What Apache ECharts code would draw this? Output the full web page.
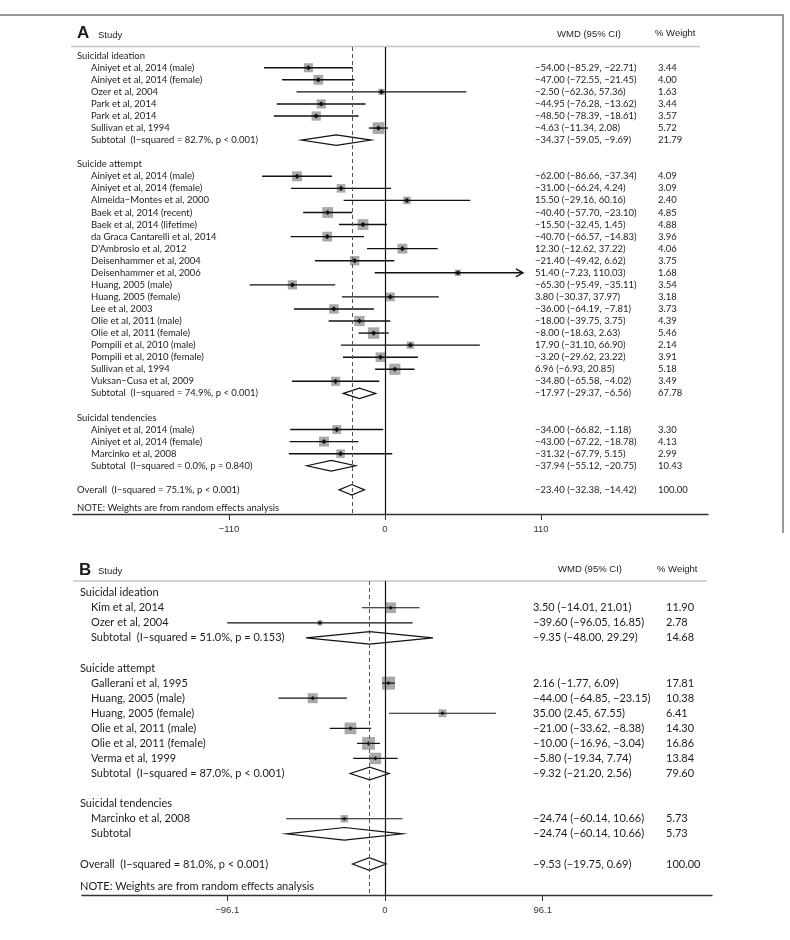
<!DOCTYPE html>
<html><head><meta charset="utf-8">
<script src="https://cdn.jsdelivr.net/npm/echarts@6/dist/echarts.min.js"></script>
<style>html,body{margin:0;padding:0;background:#fff}#c{width:790px;height:940px}</style>
</head><body><div id="c"></div>
<script>
// ---------- Panel A data ----------
const A_labels = [
  "Suicidal ideation",
  "Ainiyet et al, 2014 (male)", "Ainiyet et al, 2014 (female)", "Ozer et al, 2004",
  "Park et al, 2014", "Park et al, 2014", "Sullivan et al, 1994",
  "Subtotal  (I\u2212squared = 82.7%, p < 0.001)", "",
  "Suicide attempt",
  "Ainiyet et al, 2014 (male)", "Ainiyet et al, 2014 (female)", "Almeida\u2212Montes et al, 2000",
  "Baek et al, 2014 (recent)", "Baek et al, 2014 (lifetime)", "da Graca Cantarelli et al, 2014",
  "D'Ambrosio et al, 2012", "Deisenhammer et al, 2004", "Deisenhammer et al, 2006",
  "Huang, 2005 (male)", "Huang, 2005 (female)", "Lee et al, 2003",
  "Olie et al, 2011 (male)", "Olie et al, 2011 (female)", "Pompili et al, 2010 (male)",
  "Pompili et al, 2010 (female)", "Sullivan et al, 1994", "Vuksan\u2212Cusa et al, 2009",
  "Subtotal  (I\u2212squared = 74.9%, p < 0.001)", "",
  "Suicidal tendencies",
  "Ainiyet et al, 2014 (male)", "Ainiyet et al, 2014 (female)", "Marcinko et al, 2008",
  "Subtotal  (I\u2212squared = 0.0%, p = 0.840)", "",
  "Overall  (I\u2212squared = 75.1%, p < 0.001)",
  "NOTE: Weights are from random effects analysis"
];
const A_kind = ["g","s","s","s","s","s","s","t","b",
  "g","s","s","s","s","s","s","s","s","s","s","s","s","s","s","s","s","s","s","t","b",
  "g","s","s","s","t","b","o","n"];
const A_est = [null,-54.00,-47.00,-2.50,-44.95,-48.50,-4.63,-34.37,null,
  null,-62.00,-31.00,15.50,-40.40,-15.50,-40.70,12.30,-21.40,51.40,-65.30,3.80,-36.00,-18.00,-8.00,17.90,-3.20,6.96,-34.80,-17.97,null,
  null,-34.00,-43.00,-31.32,-37.94,null,-23.40,null];
const A_lo = [null,-85.29,-72.55,-62.36,-76.28,-78.39,-11.34,-59.05,null,
  null,-86.66,-66.24,-29.16,-57.70,-32.45,-66.57,-12.62,-49.42,-7.23,-95.49,-30.37,-64.19,-39.75,-18.63,-31.10,-29.62,-6.93,-65.58,-29.37,null,
  null,-66.82,-67.22,-67.79,-55.12,null,-32.38,null];
const A_hi = [null,-22.71,-21.45,57.36,-13.62,-18.61,2.08,-9.69,null,
  null,-37.34,4.24,60.16,-23.10,1.45,-14.83,37.22,6.62,110.03,-35.11,37.97,-7.81,3.75,2.63,66.90,23.22,20.85,-4.02,-6.56,null,
  null,-1.18,-18.78,5.15,-20.75,null,-14.42,null];
const A_wt = [null,3.44,4.00,1.63,3.44,3.57,5.72,21.79,null,
  null,4.09,3.09,2.40,4.85,4.88,3.96,4.06,3.75,1.68,3.54,3.18,3.73,4.39,5.46,2.14,3.91,5.18,3.49,67.78,null,
  null,3.30,4.13,2.99,10.43,null,100.00,null];
const A_ticks = [-110, 0, 110];

// ---------- Panel B data ----------
const B_labels = [
  "Suicidal ideation",
  "Kim et al, 2014", "Ozer et al, 2004",
  "Subtotal  (I\u2212squared = 51.0%, p = 0.153)", "",
  "Suicide attempt",
  "Gallerani et al, 1995", "Huang, 2005 (male)", "Huang, 2005 (female)",
  "Olie et al, 2011 (male)", "Olie et al, 2011 (female)", "Verma et al, 1999",
  "Subtotal  (I\u2212squared = 87.0%, p < 0.001)", "",
  "Suicidal tendencies",
  "Marcinko et al, 2008",
  "Subtotal", "",
  "Overall  (I\u2212squared = 81.0%, p < 0.001)",
  "NOTE: Weights are from random effects analysis"
];
const B_kind = ["g","s","s","t","b","g","s","s","s","s","s","s","t","b","g","s","t","b","o","n"];
const B_est = [null,3.50,-39.60,-9.35,null,null,2.16,-44.00,35.00,-21.00,-10.00,-5.80,-9.32,null,null,-24.74,-24.74,null,-9.53,null];
const B_lo = [null,-14.01,-96.05,-48.00,null,null,-1.77,-64.85,2.45,-33.62,-16.96,-19.34,-21.20,null,null,-60.14,-60.14,null,-19.75,null];
const B_hi = [null,21.01,16.85,29.29,null,null,6.09,-23.15,67.55,-8.38,-3.04,7.74,2.56,null,null,10.66,10.66,null,0.69,null];
const B_wt = [null,11.90,2.78,14.68,null,null,17.81,10.38,6.41,14.30,16.86,13.84,79.60,null,null,5.73,5.73,null,100.00,null];
const B_ticks = [-96.1, 0, 96.1];

// ---------- layout ----------
const LAB_FONT = "Lato, 'Open Sans', sans-serif";
const HDR_FONT = "'Liberation Sans', Arial, sans-serif";
const INK = "#1c1c1c";

const panelA = {
  labels: A_labels, kind: A_kind, est: A_est, lo: A_lo, hi: A_hi, wt: A_wt, ticks: A_ticks,
  grid: {left: 73, top: 47, right: 790 - 708, height: 514 - 47},
  xMin: -220, xMax: 227.8, clipHi: 97.3,
  rowTop: 55.7, rowStep: 12.06,
  groupX: 77, studyX: 91, ciX: 535, wtX: 658,
  fontSize: 9.5, boxK: 4.9, dotR: 2.6, ciW: 1.4, diaH: 5.3
};
const panelB = {
  labels: B_labels, kind: B_kind, est: B_est, lo: B_lo, hi: B_hi, wt: B_wt, ticks: B_ticks,
  grid: {left: 82, top: 581, right: 790 - 712, height: 895 - 581},
  xMin: -184.5, xMax: 199.2, clipHi: Infinity,
  rowTop: 592.7, rowStep: 15.07,
  groupX: 80, studyX: 91, ciX: 533, wtX: 666,
  fontSize: 11, boxK: 3.1, dotR: 2.1, ciW: 1.2, diaH: 6.3
};

function rowPositions(kind) {
  const pos = []; let p = 0;
  kind.forEach((k, i) => { if (i > 0) p += (k === 'n') ? 1.5 : 1; pos.push(p); });
  return pos;
}
function fmt(v) { return v.toFixed(2).replace(/-/g, '\u2212'); }

function makeRender(P) {
  return function (params, api) {
    const idx = api.value(2);
    const pos = api.value(1);
    const k = P.kind[idx];
    const y = api.coord([0, pos])[1];
    const font = P.fontSize + "px " + LAB_FONT;
    const ch = [];
    const txt = (x, s) => ({type: 'text', silent: true, z2: 10,
      style: {x: x, y: y, text: s, font: font, fill: INK, align: 'left', verticalAlign: 'middle'}});
    if (k === 'b') return {type: 'group', children: []};
    const lx = (k === 's' || k === 't') ? P.studyX : P.groupX;
    ch.push(txt(lx, P.labels[idx]));
    if (k === 's' || k === 't' || k === 'o') {
      const e = P.est[idx], lo = P.lo[idx], hi = P.hi[idx], w = P.wt[idx];
      ch.push(txt(P.ciX, fmt(e) + " (" + fmt(lo) + ", " + fmt(hi) + ")"));
      ch.push(txt(P.wtX, w.toFixed(2)));
      const xe = api.coord([e, pos])[0];
      const xl = api.coord([lo, pos])[0];
      const hiC = Math.min(hi, P.clipHi);
      const xh = api.coord([hiC, pos])[0];
      if (k === 's') {
        const s = P.boxK * Math.sqrt(w);
        ch.push({type: 'rect', shape: {x: xe - s / 2, y: y - s / 2, width: s, height: s},
          style: {fill: '#a9a9a9'}});
        ch.push({type: 'line', shape: {x1: xl, y1: y, x2: xh, y2: y},
          style: {stroke: '#111', lineWidth: P.ciW}});
        if (hi > P.clipHi) {
          ch.push({type: 'polyline', shape: {points: [[xh - 7, y - 4], [xh, y], [xh - 7, y + 4]]},
            style: {stroke: '#111', lineWidth: P.ciW, fill: null}});
        }
        const d = P.dotR;
        ch.push({type: 'polygon', shape: {points: [[xe - d, y], [xe, y - d], [xe + d, y], [xe, y + d]]},
          style: {fill: '#111'}});
      } else {
        const h = P.diaH;
        ch.push({type: 'polygon', shape: {points: [[xl, y], [xe, y - h], [xh, y], [xe, y + h]]},
          style: {stroke: '#111', lineWidth: 1.2, fill: null}});
      }
    }
    return {type: 'group', children: ch};
  };
}

function buildPanel(P, gi) {
  const pos = rowPositions(P.kind);
  const g = P.grid;
  const yMin = (g.top - P.rowTop) / P.rowStep;
  const yMax = (g.top + g.height - P.rowTop) / P.rowStep;
  const overallIdx = P.kind.indexOf('o');
  const grid = {left: g.left, top: g.top, right: g.right, height: g.height, containLabel: false};
  const xAxis = {
    type: 'value', gridIndex: gi, min: P.xMin, max: P.xMax,
    splitLine: {show: false},
    axisLine: {show: true, onZero: false, lineStyle: {color: '#333', width: 1.4}},
    axisTick: {show: true, customValues: P.ticks, length: 6, lineStyle: {color: '#333', width: 1}},
    axisLabel: {show: true, customValues: P.ticks, margin: 10, color: '#333',
      fontFamily: HDR_FONT, fontSize: 9.5,
      formatter: v => String(v).replace('-', '\u2212')}
  };
  const yAxis = {type: 'value', gridIndex: gi, inverse: true, min: yMin, max: yMax, show: false};
  const data = P.kind.map((k, i) => [0, pos[i], i]);
  const series = {
    type: 'custom', xAxisIndex: gi, yAxisIndex: gi, coordinateSystem: 'cartesian2d',
    clip: false, silent: true, animation: false,
    renderItem: makeRender(P), data: data,
    markLine: {
      silent: true, symbol: ['none', 'none'], label: {show: false}, animation: false,
      data: [
        {xAxis: 0, lineStyle: {color: '#111', width: 1.2, type: 'solid'}},
        {xAxis: P.est[overallIdx], lineStyle: {color: '#555', width: 1, type: [4, 3]}}
      ]
    }
  };
  return {grid, xAxis, yAxis, series};
}

const pa = buildPanel(panelA, 0);
const pb = buildPanel(panelB, 1);

function hdr(x, y, text, size, bold, align) {
  return {type: 'text', left: undefined, x: x, y: y, silent: true,
    style: {text: text, font: (bold ? 'bold ' : '') + size + "px " + HDR_FONT, fill: INK,
      align: align || 'left', verticalAlign: 'middle'}};
}

const option = {
  backgroundColor: '#fff',
  animation: false,
  grid: [pa.grid, pb.grid],
  xAxis: [pa.xAxis, pb.xAxis],
  yAxis: [pa.yAxis, pb.yAxis],
  series: [pa.series, pb.series],
  graphic: [
    // frame
    {type: 'polyline', silent: true, shape: {points: [[0, 15], [783, 15], [783, 533]]},
      style: {stroke: '#777', lineWidth: 1.5, fill: null}},
    // panel A header
    hdr(77, 33, 'A', 17, true),
    hdr(98, 35, 'Study', 9.5, false),
    hdr(589, 34, 'WMD (95% CI)', 9.5, false, 'center'),
    hdr(655, 33, '% Weight', 9.5, false),
    {type: 'line', silent: true, shape: {x1: 71, y1: 46.5, x2: 700, y2: 46.5},
      style: {stroke: '#c4c4c4', lineWidth: 1.5}},
    // panel B header
    hdr(79, 570, 'B', 17, true),
    hdr(98, 571, 'Study', 9.5, false),
    hdr(590, 569, 'WMD (95% CI)', 9.5, false, 'center'),
    hdr(657, 569, '% Weight', 9.5, false),
    {type: 'line', silent: true, shape: {x1: 73, y1: 581, x2: 707, y2: 581},
      style: {stroke: '#c4c4c4', lineWidth: 1.5}}
  ]
};

const chart = echarts.init(document.getElementById('c'), null, {renderer: 'canvas'});
chart.setOption(option);
</script>
</body></html>
